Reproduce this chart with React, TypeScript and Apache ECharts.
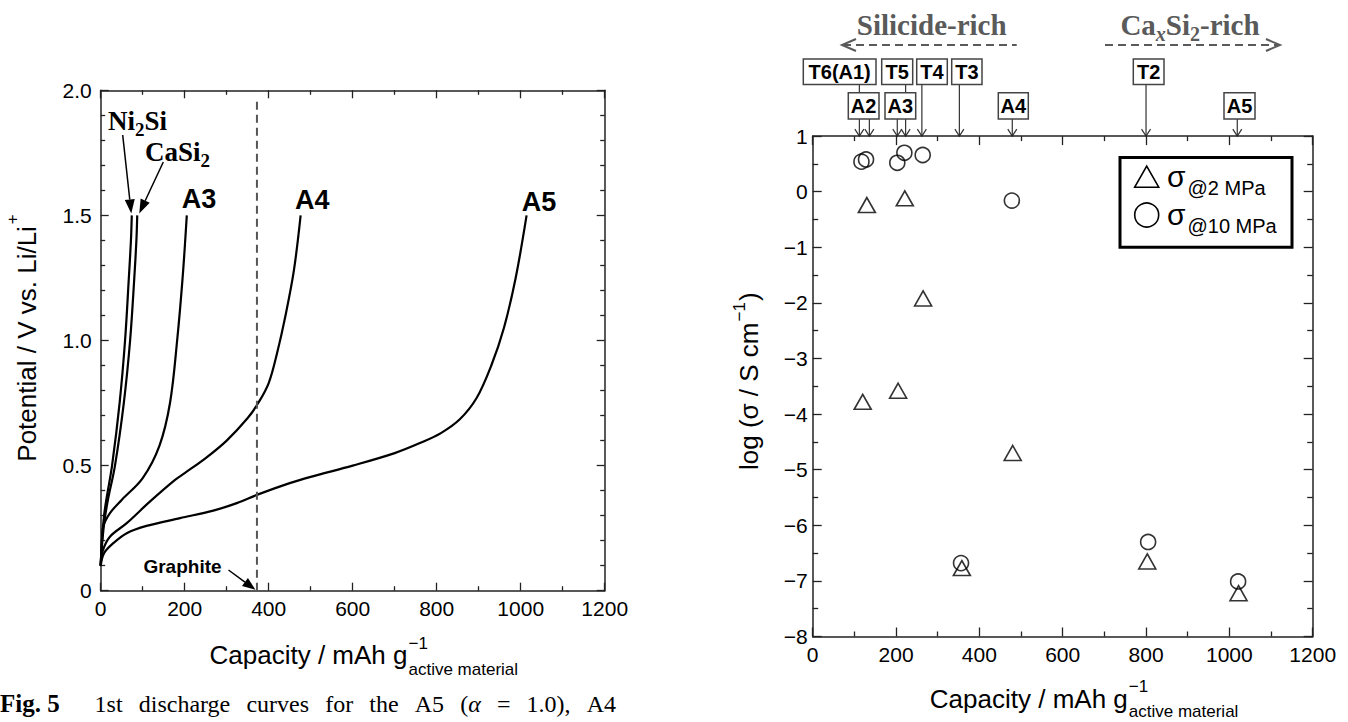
import React, { useEffect, useRef } from 'react';
import * as echarts from 'echarts';

const W = 1348;
const H = 722;
const SANS = "'Liberation Sans', Arial, Helvetica, sans-serif";
const SERIF = "'Liberation Serif', 'Times New Roman', Times, serif";
const AXIS_COLOR = '#222';
const NOTE_GRAY = '#5a5a5a';

// ---------- Left panel: 1st discharge curves (capacity / mAh g-1, potential / V) ----------
const ni2siCurve: [number, number][] = [[0, 0.1], [3, 0.2], [8, 0.3], [14, 0.37], [27, 0.5], [45, 0.75], [58, 1.0], [67, 1.25], [72, 1.4], [74, 1.5]];
const casi2Curve: [number, number][] = [[0, 0.1], [3, 0.18], [9, 0.28], [18, 0.37], [34, 0.5], [55, 0.75], [70, 1.0], [80, 1.25], [85, 1.4], [87, 1.5]];
const a3Curve: [number, number][] = [[0, 0.1], [3, 0.2], [6, 0.256], [22, 0.31], [50, 0.363], [100, 0.45], [140, 0.58], [165, 0.75], [182, 1.0], [195, 1.25], [205, 1.5]];
const a4Curve: [number, number][] = [[0, 0.1], [5, 0.16], [22, 0.216], [62, 0.27], [117, 0.356], [177, 0.443], [200, 0.47], [250, 0.53], [300, 0.6], [350, 0.69], [375, 0.75], [400, 0.83], [420, 0.95], [440, 1.1], [460, 1.28], [476, 1.5]];
const a5Curve: [number, number][] = [[0, 0.1], [8, 0.15], [30, 0.19], [62, 0.23], [109, 0.259], [189, 0.29], [268, 0.32], [324, 0.35], [375, 0.385], [450, 0.43], [500, 0.455], [600, 0.5], [700, 0.55], [760, 0.59], [810, 0.63], [855, 0.685], [895, 0.77], [930, 0.9], [960, 1.05], [988, 1.25], [1014, 1.5]];
const graphiteCapacity = 372;

// ---------- Right panel: log(conductivity) vs capacity ----------
const sigma2MPa: [number, number][] = [[120, -3.78], [130, -0.24], [205, -3.58], [221, -0.12], [265, -1.92], [358, -6.77], [480, -4.7], [803, -6.65], [1022, -7.22]];
const sigma10MPa: [number, number][] = [[117, 0.54], [128, 0.58], [203, 0.52], [220, 0.7], [264, 0.66], [356, -6.68], [478, -0.16], [805, -6.3], [1021, -7.01]];
const sampleNames = ['T6(A1)', 'A2', 'A3', 'T5', 'T4', 'T3', 'A4', 'T2', 'A5'];
const sampleCapacity = [112, 136, 203, 223, 262, 352, 479, 800, 1019];

// ---------- layout (pixels) ----------
const leftGrid = { left: 100.7, top: 90.3, width: 504, height: 500.4 };
const rightGrid = { left: 812.7, top: 136.1, width: 500, height: 500.4 };
const boxLayout: Record<string, { left: number; row: number; w: number }> = {
  'T6(A1)': { left: 803.3, row: 0, w: 72.7 },
  A2: { left: 848.3, row: 1, w: 30.7 },
  A3: { left: 885, row: 1, w: 30.7 },
  T5: { left: 881.7, row: 0, w: 31 },
  T4: { left: 916.7, row: 0, w: 30.6 },
  T3: { left: 951.7, row: 0, w: 30.3 },
  A4: { left: 998.3, row: 1, w: 30 },
  T2: { left: 1133.3, row: 0, w: 30.7 },
  A5: { left: 1224, row: 1, w: 31 },
};
const rowTop = [59, 92.7];
const rowH = [25.5, 26.3];

type Run = { text: string; size: number; weight?: string; family?: string; italic?: boolean; dy?: number; dx?: number; under?: boolean; fill?: string };

let measureCtx: CanvasRenderingContext2D | null = null;
function measure(r: Run) {
  if (!measureCtx) measureCtx = document.createElement('canvas').getContext('2d');
  const c = measureCtx!;
  c.font = `${r.italic ? 'italic ' : ''}${r.weight || 'normal'} ${r.size}px ${r.family || SANS}`;
  return c.measureText(r.text).width;
}

function runsGroup(runs: Run[], x: number, baseline: number, align: 'left' | 'center' = 'left', rotation = 0): any {
  let cur = 0;
  let prevStart = 0;
  const placed = runs.map((r) => {
    const w = measure(r);
    const start = r.under ? prevStart : cur + (r.dx || 0);
    prevStart = start;
    cur = Math.max(cur, start + w);
    return { r, start };
  });
  const shift = align === 'center' ? -cur / 2 : 0;
  return {
    type: 'group',
    x,
    y: baseline,
    rotation,
    silent: true,
    children: placed.map(({ r, start }) => ({
      type: 'text',
      x: start + shift,
      y: (r.dy || 0) - 0.345 * r.size,
      silent: true,
      style: {
        text: r.text,
        fontSize: r.size,
        fontFamily: r.family || SANS,
        fontWeight: r.weight || 'normal',
        fontStyle: r.italic ? 'italic' : 'normal',
        fill: r.fill || '#000',
        align: 'left',
        verticalAlign: 'middle',
      },
    })),
  };
}

function solidArrow(x1: number, y1: number, x2: number, y2: number, headLen: number, headW: number, color = '#000', lw = 1.5): any[] {
  const a = Math.atan2(y2 - y1, x2 - x1);
  const cs = Math.cos(a);
  const sn = Math.sin(a);
  const bx = x2 - headLen * cs;
  const by = y2 - headLen * sn;
  const nx = -sn * headW / 2;
  const ny = cs * headW / 2;
  return [
    { type: 'line', silent: true, shape: { x1, y1, x2: bx, y2: by }, style: { stroke: color, lineWidth: lw } },
    { type: 'polygon', silent: true, shape: { points: [[x2, y2], [bx + nx, by + ny], [bx - nx, by - ny]] }, style: { fill: color } },
  ];
}

function openHead(x: number, y: number, dir: 'down' | 'left' | 'right', len: number, half: number, color: string, lw: number): any {
  let pts: number[][];
  if (dir === 'down') pts = [[x - half, y - len], [x, y], [x + half, y - len]];
  else if (dir === 'left') pts = [[x + len, y - half], [x, y], [x + len, y + half]];
  else pts = [[x - len, y - half], [x, y], [x - len, y + half]];
  return { type: 'polyline', silent: true, shape: { points: pts }, style: { stroke: color, lineWidth: lw, fill: null } };
}

function axis(o: any): any {
  return {
    type: 'value',
    gridIndex: o.gridIndex,
    position: o.position,
    min: o.min,
    max: o.max,
    interval: o.interval,
    axisLine: { show: true, onZero: false, lineStyle: { color: AXIS_COLOR, width: 1.5 } },
    axisTick: { show: true, inside: true, length: o.tickLen, lineStyle: { color: AXIS_COLOR, width: 1.3 } },
    minorTick: { show: true, splitNumber: o.minorSplit, length: o.minorLen, lineStyle: { color: AXIS_COLOR, width: 1.3 } },
    splitLine: { show: false },
    minorSplitLine: { show: false },
    axisLabel: {
      show: !!o.showLabel,
      formatter: o.formatter || ((v: number) => String(v)),
      margin: o.margin,
      color: '#000',
      fontSize: 21,
      fontFamily: SANS,
    },
  };
}

const curveSeries = (name: string, data: [number, number][]) => ({
  name,
  type: 'line',
  xAxisIndex: 0,
  yAxisIndex: 0,
  data,
  smooth: 0.35,
  showSymbol: false,
  silent: true,
  lineStyle: { color: '#000', width: 2.2 },
});

const minusFmt = (v: number) => (v < 0 ? '\u2212' + Math.abs(v) : String(v));

function buildOption(): any {
  const leftX = { min: 0, max: 1200, interval: 200, minorSplit: 2, tickLen: 8, minorLen: 4.5 };
  const leftY = { min: 0, max: 2, interval: 0.5, minorSplit: 5, tickLen: 8, minorLen: 4.5 };
  const rightX = { min: 0, max: 1200, interval: 200, minorSplit: 2, tickLen: 9, minorLen: 5 };
  const rightY = { min: -8, max: 1, interval: 1, minorSplit: 2, tickLen: 9, minorLen: 5.5 };
  return {
    animation: false,
    backgroundColor: '#fff',
    grid: [
      { ...leftGrid, containLabel: false },
      { ...rightGrid, containLabel: false },
    ],
    xAxis: [
      axis({ ...leftX, gridIndex: 0, position: 'bottom', showLabel: true, margin: 7 }),
      axis({ ...leftX, gridIndex: 0, position: 'top' }),
      axis({ ...rightX, gridIndex: 1, position: 'bottom', showLabel: true, margin: 7 }),
      axis({ ...rightX, gridIndex: 1, position: 'top' }),
    ],
    yAxis: [
      axis({ ...leftY, gridIndex: 0, position: 'left', showLabel: true, margin: 9, formatter: (v: number) => (v === 0 ? '0' : v.toFixed(1)) }),
      axis({ ...leftY, gridIndex: 0, position: 'right' }),
      axis({ ...rightY, gridIndex: 1, position: 'left', showLabel: true, margin: 5, formatter: minusFmt }),
      axis({ ...rightY, gridIndex: 1, position: 'right' }),
    ],
    series: [
      curveSeries('Ni2Si', ni2siCurve),
      curveSeries('CaSi2', casi2Curve),
      curveSeries('A3', a3Curve),
      curveSeries('A4', a4Curve),
      curveSeries('A5', a5Curve),
      {
        name: 'Graphite',
        type: 'line',
        xAxisIndex: 0,
        yAxisIndex: 0,
        data: [[graphiteCapacity, 0], [graphiteCapacity, 1.97]],
        showSymbol: false,
        silent: true,
        lineStyle: { color: '#555', width: 2, type: [8, 5] },
      },
      {
        name: '\u03c3@2 MPa',
        type: 'scatter',
        xAxisIndex: 2,
        yAxisIndex: 2,
        data: sigma2MPa,
        symbol: 'triangle',
        symbolSize: [17, 15],
        silent: true,
        itemStyle: { color: 'rgba(255,255,255,0)', borderColor: '#000', borderWidth: 1.6 },
      },
      {
        name: '\u03c3@10 MPa',
        type: 'scatter',
        xAxisIndex: 2,
        yAxisIndex: 2,
        data: sigma10MPa,
        symbol: 'circle',
        symbolSize: 15,
        silent: true,
        itemStyle: { color: 'rgba(255,255,255,0)', borderColor: '#000', borderWidth: 1.6 },
      },
    ],
  };
}

function buildGraphics(chart: echarts.ECharts): any[] {
  const toL = (p: number[]) => chart.convertToPixel({ seriesIndex: 0 }, p) as number[];
  const toR = (p: number[]) => chart.convertToPixel({ seriesIndex: 6 }, p) as number[];
  const els: any[] = [];

  // ----- left axis titles -----
  els.push(runsGroup([
    { text: 'Capacity / mAh g', size: 26 },
    { text: '\u22121', size: 17, dy: -15, dx: 1 },
    { text: 'active material', size: 17, dy: 11, under: true },
  ], 209.5, 664));
  els.push(runsGroup([
    { text: 'Potential / V vs. Li/Li', size: 26 },
    { text: '+', size: 17, dy: -17, dx: 2 },
  ], 35.5, 461.7, 'left', Math.PI / 2));

  // ----- left curve labels -----
  const ni2siEnd = toL(ni2siCurve[ni2siCurve.length - 1]);
  const casi2End = toL(casi2Curve[casi2Curve.length - 1]);
  els.push(runsGroup([
    { text: 'Ni', size: 27, weight: 'bold', family: SERIF },
    { text: '2', size: 19, weight: 'bold', family: SERIF, dy: 6 },
    { text: 'Si', size: 27, weight: 'bold', family: SERIF },
  ], 108, 130));
  els.push(runsGroup([
    { text: 'CaSi', size: 27, weight: 'bold', family: SERIF },
    { text: '2', size: 19, weight: 'bold', family: SERIF, dy: 5 },
  ], 145, 161.7));
  els.push(...solidArrow(122.7, 135, ni2siEnd[0] - 0.5, ni2siEnd[1] - 2, 14, 10));
  els.push(...solidArrow(163.3, 162, casi2End[0] + 2, casi2End[1] - 2, 14, 10));
  els.push(runsGroup([{ text: 'A3', size: 27, weight: 'bold' }], 181.7, 208.3));
  els.push(runsGroup([{ text: 'A4', size: 27, weight: 'bold' }], 295, 209.3));
  els.push(runsGroup([{ text: 'A5', size: 27, weight: 'bold' }], 521.7, 211.7));

  // graphite annotation
  const gTip = toL([graphiteCapacity, 0]);
  els.push(runsGroup([{ text: 'Graphite', size: 19, weight: 'bold' }], 182.5, 573, 'center'));
  els.push(...solidArrow(228.5, 570, gTip[0] - 1.5, gTip[1] - 1, 13, 10));

  // caption (partially visible)
  els.push(runsGroup([{ text: 'Fig. 5', size: 25, weight: 'bold', family: SERIF }], 0, 712));
  const capWords: Run[][] = [
    [{ text: '1st', size: 24, family: SERIF }],
    [{ text: 'discharge', size: 24, family: SERIF }],
    [{ text: 'curves', size: 24, family: SERIF }],
    [{ text: 'for', size: 24, family: SERIF }],
    [{ text: 'the', size: 24, family: SERIF }],
    [{ text: 'A5', size: 24, family: SERIF }],
    [{ text: '(', size: 24, family: SERIF }, { text: '\u03b1', size: 24, family: SERIF, italic: true }],
    [{ text: '=', size: 24, family: SERIF }],
    [{ text: '1.0),', size: 24, family: SERIF }],
    [{ text: 'A4', size: 24, family: SERIF }],
  ];
  const wordW = capWords.map((ws) => ws.reduce((s, r) => s + measure(r), 0));
  const capL = 94.6;
  const capR = 616;
  const gap = (capR - capL - wordW.reduce((a, b) => a + b, 0)) / (capWords.length - 1);
  let cx = capL;
  capWords.forEach((ws, i) => {
    els.push(runsGroup(ws, cx, 712));
    cx += wordW[i] + gap;
  });

  // ----- right axis titles -----
  els.push(runsGroup([
    { text: 'Capacity / mAh g', size: 26 },
    { text: '\u22121', size: 17, dy: -15, dx: 1 },
    { text: 'active material', size: 17, dy: 10, under: true },
  ], 929.8, 707.5));
  els.push(runsGroup([
    { text: 'log (\u03c3 / S cm', size: 26 },
    { text: '\u22121', size: 17, dy: -13, dx: 1 },
    { text: ')', size: 26, dx: 1 },
  ], 758, 470, 'left', Math.PI / 2));

  // ----- right top region labels -----
  els.push(runsGroup([{ text: 'Silicide-rich', size: 29, weight: 'bold', family: SERIF, fill: NOTE_GRAY }], 931.7, 35, 'center'));
  els.push({ type: 'line', silent: true, shape: { x1: 843, y1: 45, x2: 1016.7, y2: 45 }, style: { stroke: NOTE_GRAY, lineWidth: 2, lineDash: [8, 5] } });
  els.push(openHead(842, 45, 'left', 14, 6, NOTE_GRAY, 2));
  els.push(runsGroup([
    { text: 'Ca', size: 29, weight: 'bold', family: SERIF, fill: NOTE_GRAY },
    { text: 'x', size: 20, weight: 'bold', family: SERIF, italic: true, dy: 6, fill: NOTE_GRAY },
    { text: 'Si', size: 29, weight: 'bold', family: SERIF, fill: NOTE_GRAY },
    { text: '2', size: 20, weight: 'bold', family: SERIF, dy: 6, fill: NOTE_GRAY },
    { text: '-rich', size: 29, weight: 'bold', family: SERIF, fill: NOTE_GRAY },
  ], 1190, 35, 'center'));
  els.push({ type: 'line', silent: true, shape: { x1: 1105, y1: 45, x2: 1279, y2: 45 }, style: { stroke: NOTE_GRAY, lineWidth: 2, lineDash: [8, 5] } });
  els.push(openHead(1280, 45, 'right', 14, 6, NOTE_GRAY, 2));

  // ----- sample markers (arrows to top axis) -----
  const axisTopY = toR([0, 1])[1];
  sampleNames.forEach((name, i) => {
    const b = boxLayout[name];
    const px = toR([sampleCapacity[i], 1])[0];
    const y0 = rowTop[b.row] + rowH[b.row];
    els.push({ type: 'line', silent: true, shape: { x1: px, y1: y0, x2: px, y2: axisTopY }, style: { stroke: '#333', lineWidth: 1.2 } });
    els.push(openHead(px, axisTopY, 'down', 7, 4.5, '#333', 1.2));
  });
  sampleNames.forEach((name) => {
    const b = boxLayout[name];
    els.push({
      type: 'rect',
      silent: true,
      shape: { x: b.left, y: rowTop[b.row], width: b.w, height: rowH[b.row] },
      style: { fill: '#fff', stroke: '#444', lineWidth: 1.5 },
    });
    els.push({
      type: 'text',
      silent: true,
      x: b.left + b.w / 2,
      y: rowTop[b.row] + rowH[b.row] / 2 + 0.5,
      style: { text: name, fontSize: 20, fontWeight: 'bold', fontFamily: SANS, fill: '#000', align: 'center', verticalAlign: 'middle' },
    });
  });

  // ----- legend -----
  els.push({ type: 'rect', silent: true, shape: { x: 1120, y: 157.5, width: 172, height: 89.8 }, style: { fill: '#fff', stroke: '#000', lineWidth: 3 } });
  els.push({ type: 'polygon', silent: true, shape: { points: [[1134.7, 187.2], [1146.7, 166.2], [1158.7, 187.2]] }, style: { fill: 'none', stroke: '#000', lineWidth: 1.6 } });
  els.push({ type: 'circle', silent: true, shape: { cx: 1146.7, cy: 215, r: 12 }, style: { fill: 'none', stroke: '#000', lineWidth: 1.6 } });
  els.push(runsGroup([
    { text: '\u03c3', size: 30 },
    { text: '@2 MPa', size: 20, dy: 8.5, dx: 2 },
  ], 1167, 186.7));
  els.push(runsGroup([
    { text: '\u03c3', size: 30 },
    { text: '@10 MPa', size: 20, dy: 8, dx: 2 },
  ], 1167, 225));

  return els;
}

export default function App() {
  const ref = useRef<HTMLDivElement>(null);
  useEffect(() => {
    if (!ref.current) return;
    const chart = echarts.init(ref.current, null, { renderer: 'svg', width: W, height: H });
    chart.setOption(buildOption());
    chart.setOption({ graphic: { elements: buildGraphics(chart) } });
    return () => chart.dispose();
  }, []);
  return <div ref={ref} style={{ position: 'fixed', left: 0, top: 0, width: W, height: H, background: '#fff' }} />;
}
